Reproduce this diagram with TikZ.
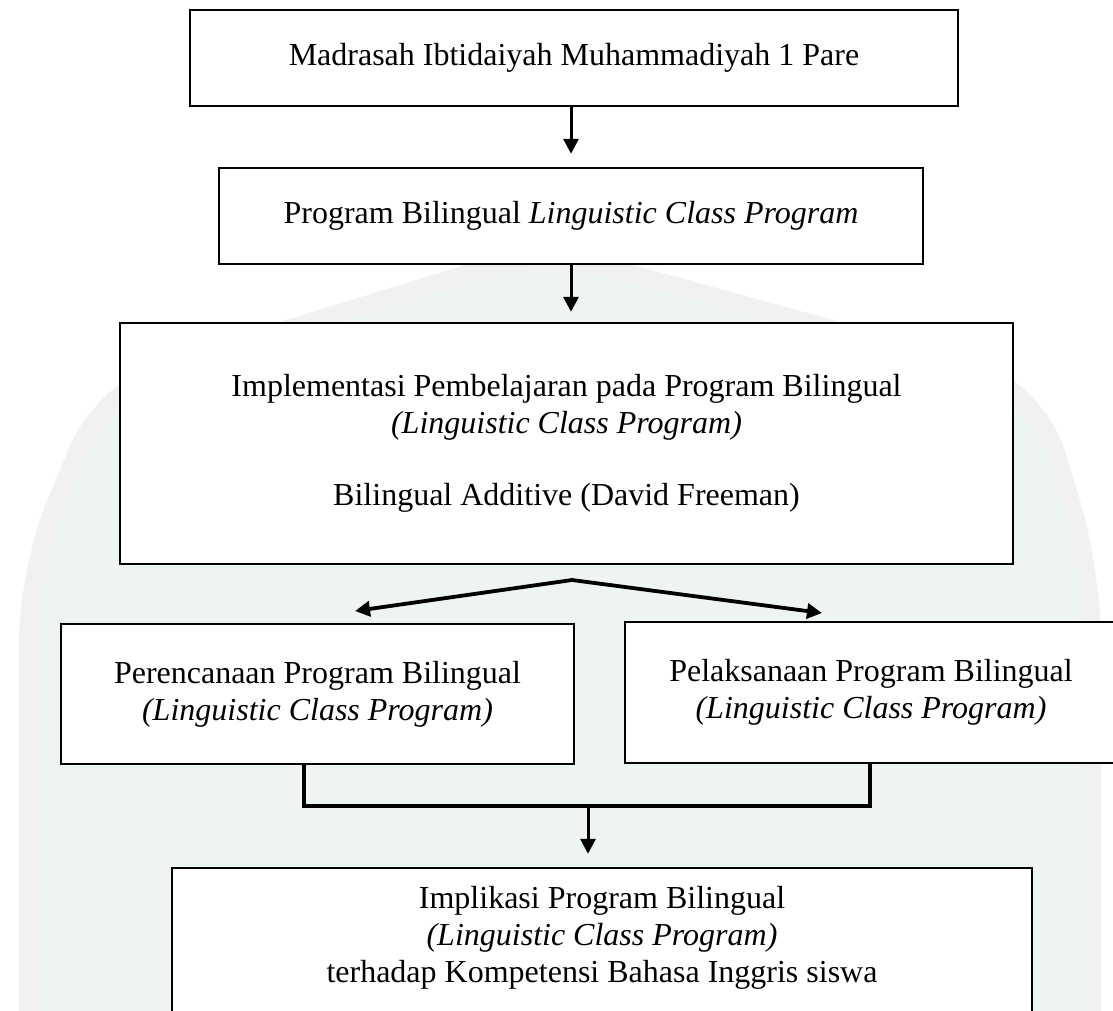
\documentclass[tikz,border=0pt]{standalone}
\usepackage{fontspec}
\setmainfont{Liberation Serif}
\usetikzlibrary{arrows.meta}
\definecolor{wmgreen}{RGB}{238,245,240}
\definecolor{wmgrey}{RGB}{241,241,241}
\begin{document}
\begin{tikzpicture}[x=1pt,y=-1pt,
  box/.style={draw=black, line width=2.4pt, fill=white, rectangle, inner sep=0pt,
              align=center, font=\fontsize{32}{37}\selectfont},
  arr/.style={line width=3pt, -{Triangle[width=15pt,length=15pt]}},
  branch/.style={line width=3.8pt, -{Triangle[width=15pt,length=15pt]}},
  conn/.style={line width=3.6pt}]
\useasboundingbox (0,0) rectangle (1113,1010);
\clip (0,0) rectangle (1113,1010);
\fill[white] (0,0) rectangle (1113,1010);
% faint watermark shield
\path[fill=wmgreen, draw=wmgrey, line width=18pt, rounded corners=70pt]
  (28,1060) -- (28,570) -- (105,385) -- (545,250) -- (1035,385) -- (1092,570) -- (1092,1060);
% boxes
\node[box, minimum width=768pt, minimum height=96pt] (b1) at (574,58)
  {Madrasah Ibtidaiyah Muhammadiyah 1 Pare};
\node[box, minimum width=704pt, minimum height=96pt] (b2) at (571,216)
  {Program Bilingual \textit{Linguistic Class Program}};
\node[box, minimum width=893pt, minimum height=241pt] (b3) at (566.5,443.5)
  {Implementasi Pembelajaran pada Program Bilingual\\
   \textit{(Linguistic Class Program)}\\[35pt]
   Bilingual Additive (David Freeman)};
\node[box, minimum width=513pt, minimum height=140pt] (b4) at (317.5,694)
  {Perencanaan Program Bilingual\\ \textit{(Linguistic Class Program)}};
\node[box, minimum width=492pt, minimum height=141pt] (b5) at (871,692.5)
  {Pelaksanaan Program Bilingual\\ \textit{(Linguistic Class Program)}};
\node[box, minimum width=860pt, minimum height=148pt, text depth=16pt] (b6) at (602,942)
  {Implikasi Program Bilingual\\
   \textit{(Linguistic Class Program)}\\
   terhadap Kompetensi Bahasa Inggris siswa};
% connectors
\draw[arr, shorten >=13pt] (b1.south -| b2.north) -- (b2.north);
\draw[arr, shorten >=10pt] (b2.south) -- (b2.south |- b3.north);
\coordinate (br) at (572,580);
\coordinate (tipL) at (355,611);
\coordinate (tipR) at (822,613);
\draw[branch] (br) -- (tipL);
\draw[branch] (br) -- (tipR);
\coordinate (jL) at (304,806);
\coordinate (jR) at (870,806);
\coordinate (jM) at (588,806);
\draw[conn] (b4.south -| jL) -- (jL) -- (jR) -- (b5.south -| jR);
\draw[arr, shorten >=13pt] (jM) -- (jM |- b6.north);
\end{tikzpicture}
\end{document}
